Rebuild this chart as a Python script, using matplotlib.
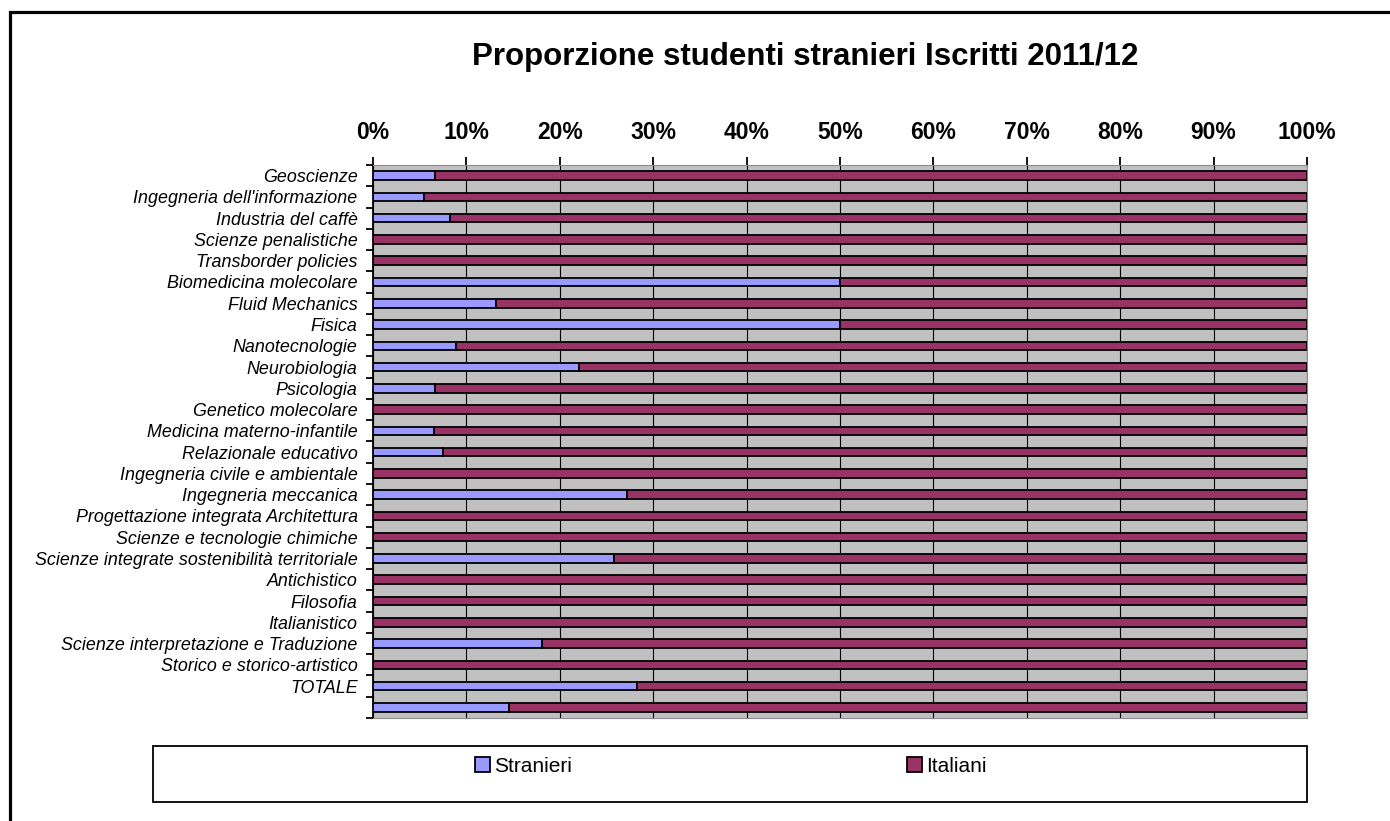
import numpy as np
import matplotlib
matplotlib.use("Agg")
import matplotlib.pyplot as plt
from matplotlib.patches import Rectangle, Patch

CATEGORIES = [
    "Geoscienze", "Ingegneria dell'informazione", "Industria del caffè",
    "Scienze penalistiche", "Transborder policies", "Biomedicina molecolare",
    "Fluid Mechanics", "Fisica", "Nanotecnologie", "Neurobiologia", "Psicologia",
    "Genetico molecolare", "Medicina materno-infantile", "Relazionale educativo",
    "Ingegneria civile e ambientale", "Ingegneria meccanica",
    "Progettazione integrata Architettura", "Scienze e tecnologie chimiche",
    "Scienze integrate sostenibilità territoriale", "Antichistico", "Filosofia",
    "Italianistico", "Scienze interpretazione e Traduzione",
    "Storico e storico-artistico", "TOTALE", "",
]
STRANIERI = [6.6, 5.5, 8.2, 0, 0, 50, 13.2, 50, 8.9, 22.1, 6.6, 0, 6.5, 7.5,
             0, 27.2, 0, 0, 25.8, 0, 0, 0, 18.1, 0, 28.3, 14.6]
ITALIANI = [100 - s for s in STRANIERI]
XTICKS = list(range(0, 101, 10))
XTICK_LABELS = [f"{t}%" for t in XTICKS]

W, H = 1390, 821
fig = plt.figure(figsize=(W / 100, H / 100), dpi=100)
fig.patch.set_facecolor("white")
SANS = ["Liberation Sans", "DejaVu Sans"]

# outer chart border (runs off the right/bottom edge)
fig.add_artist(Rectangle((10 / W, -0.2), 2.0, 1.2 - 12 / H, transform=fig.transFigure,
                         fill=False, edgecolor="black", lw=2.3))

ax = fig.add_axes([373 / W, 1 - 718 / H, (1307 - 373) / W, (718 - 165) / H])
ax.set_facecolor("#C0C0C0")

y = np.arange(len(CATEGORIES))
BLUE, PLUM = "#9999FF", "#993366"
ax.barh(y, STRANIERI, height=0.4, color=BLUE, edgecolor="black", lw=1.3, zorder=3)
ax.barh(y, ITALIANI, left=STRANIERI, height=0.4, color=PLUM, edgecolor="black",
        lw=1.3, zorder=3)

ax.set_xlim(0, 100)
ax.set_ylim(len(CATEGORIES) - 0.5, -0.5)
ax.xaxis.tick_top()
ax.set_xticks(XTICKS, XTICK_LABELS)
ax.tick_params(axis="x", length=6, width=1.3, pad=9, labelsize=16.5)
for lab in ax.get_xticklabels():
    lab.set_fontweight("bold")
    lab.set_fontfamily(SANS)
ax.grid(axis="x", color="black", lw=0.8, zorder=1)

ax.set_yticks(y, CATEGORIES)
ax.tick_params(axis="y", length=0, pad=11)
for lab in ax.get_yticklabels():
    lab.set_fontstyle("italic")
    lab.set_fontsize(12.9)
    lab.set_fontfamily(["Liberation Sans Narrow", "Liberation Sans", "DejaVu Sans"])
ax.set_yticks(np.arange(-0.5, len(CATEGORIES)), minor=True)
ax.tick_params(axis="y", which="minor", length=5, width=1.3)

for side in ("top", "right", "bottom"):
    ax.spines[side].set_color("#8C8C8C")
ax.spines["left"].set_color("black")
ax.spines["left"].set_linewidth(1.3)

fig.text(805 / W, 1 - 57 / H, "Proporzione studenti stranieri Iscritti 2011/12",
         ha="center", va="center", fontsize=22.5, fontweight="bold", family=SANS)

# legend box
fig.add_artist(Rectangle((153 / W, 1 - 802 / H), (1307 - 153) / W, 56 / H,
                         transform=fig.transFigure, fill=False, edgecolor="black", lw=1.3))
handles = [Patch(facecolor=BLUE, edgecolor="black", lw=1.3, label="Stranieri"),
           Patch(facecolor=PLUM, edgecolor="black", lw=1.3, label="Italiani")]
fig.legend(handles=handles, loc="center", bbox_to_anchor=(731 / W, 1 - 766 / H),
           ncol=2, frameon=False, handlelength=0.7, handleheight=0.7,
           handletextpad=0.2, columnspacing=16.1,
           prop={"family": SANS, "size": 15})

fig.savefig("out.png", dpi=100)
